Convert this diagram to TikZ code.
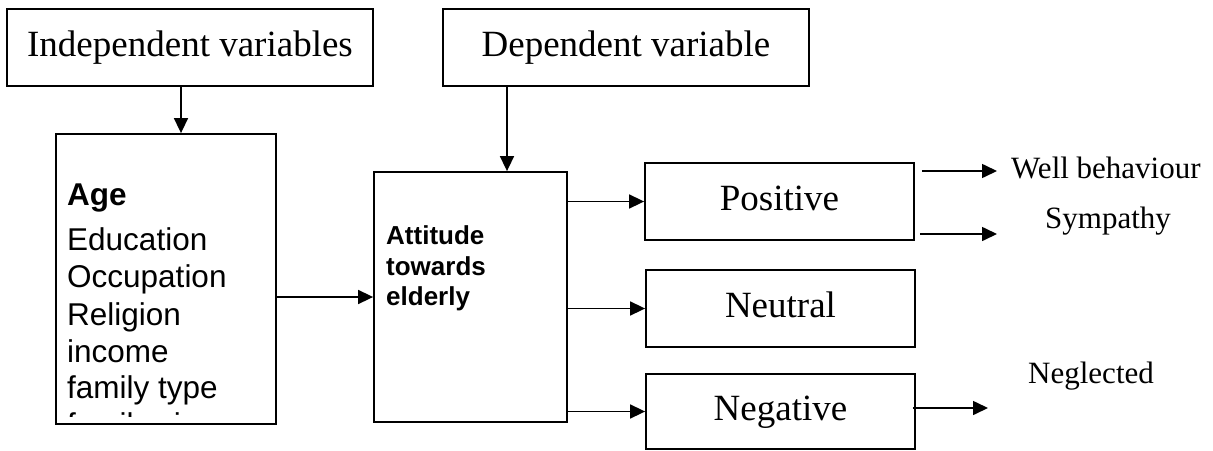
\documentclass[tikz,border=0pt]{standalone}
\usepackage{fontspec}
\setmainfont{Liberation Serif}
\setsansfont{Liberation Sans}
\usetikzlibrary{positioning,calc,arrows.meta}

\begin{document}
\begin{tikzpicture}[x=1pt, y=-1pt,
    box/.style={draw, rectangle, line width=1.8pt, inner sep=0pt, text height=26pt, text depth=9pt, font=\fontsize{37}{44}\selectfont},
    lbl/.style={anchor=base west, inner sep=0pt, font=\fontsize{31}{37}\selectfont},
    var/.style={anchor=base west, inner sep=0pt, font=\sffamily\fontsize{31.5}{37}\selectfont},
    att/.style={anchor=base west, inner sep=0pt, font=\sffamily\bfseries\fontsize{26}{31}\selectfont},
    arr/.style={line width=1.6pt, -{Triangle[length=15pt, width=14pt]}}
]
    \useasboundingbox (0,0) rectangle (1213,450);

    % Top boxes
    \node [box, minimum width=366pt, minimum height=77pt] (indep) at (190,47.5) {Independent variables};
    \node [box, minimum width=366pt, minimum height=77pt] (dep) at (626,47.5) {Dependent variable};

    % Left box with the variables
    \node [box, minimum width=220pt, minimum height=290pt] (indvars) at (166,279) {};
    \node [var, font=\sffamily\bfseries\fontsize{31.5}{37}\selectfont] (age) at (67,205) {Age};
    \begin{scope}
        \clip (indvars.north west) rectangle ([yshift=8pt]indvars.south east);
        \foreach \i/\y/\t in {1/250/Education, 2/287/Occupation, 3/325/Religion, 4/362/income, 5/398/family type, 6/435/family size} {
            \node [var] (v\i) at (67,\y) {\t};
        }
    \end{scope}

    % Middle box
    \node [box, minimum width=193pt, minimum height=250pt] (attitude) at (470.5,297) {};
    \foreach \i/\y/\t in {1/244/Attitude, 2/275/towards, 3/305/elderly} {
        \node [att] (a\i) at (386,\y) {\t};
    }

    % Outcome boxes
    \node [box, minimum width=269pt, minimum height=77pt] (pos) at (779.5,201.5) {Positive};
    \node [box, minimum width=269pt, minimum height=77pt] (neu) at (780.5,308.5) {Neutral};
    \node [box, minimum width=269pt, minimum height=75pt] (neg) at (780.5,411.5) {Negative};

    % Labels on the right
    \node [lbl] (wb) at (1011,178) {Well behaviour};
    \node [lbl] (sym) at (1045,228) {Sympathy};
    \node [lbl] (negl) at (1028,383) {Neglected};
    \coordinate (wbtip) at ([xshift=-14pt,yshift=7pt]wb.base west);
    \coordinate (symtip) at (997,234);
    \coordinate (negtip) at (988,408);

    % Arrows
    \draw [arr] ([xshift=-9pt]indep.south) -- ([xshift=-9pt]indep.south |- indvars.north);
    \draw [arr] ([xshift=-119pt]dep.south) -- ([xshift=-119pt]dep.south |- attitude.north);
    \draw [arr] (indvars.east |- attitude.west) -- (attitude.west);
    \draw [arr] (attitude.east |- pos.west) -- (pos.west);
    \draw [arr] (attitude.east |- neu.west) -- (neu.west);
    \draw [arr] (attitude.east |- neg.west) -- (neg.west);
    \draw [arr] ([xshift=7pt]pos.east |- wbtip) -- (wbtip);
    \draw [arr] ([xshift=5pt]pos.east |- symtip) -- (symtip);
    \draw [arr] ([xshift=-3pt]neg.east |- negtip) -- (negtip);
\end{tikzpicture}
\end{document}
